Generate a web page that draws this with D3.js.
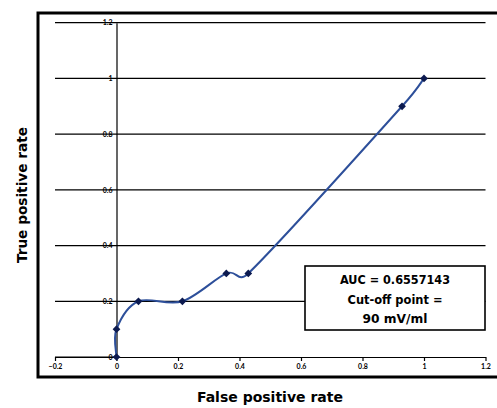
<!DOCTYPE html>
<html><head><meta charset="utf-8">
<script src="https://cdn.jsdelivr.net/npm/d3@7/dist/d3.min.js"></script>
<style>body{margin:0;background:#fff}svg{display:block}</style>
</head><body>
<svg id="c" width="497" height="408"></svg>
<script>
const fpr = [0, 0, 0.0714, 0.2143, 0.3571, 0.4286, 0.9286, 1];
const tpr = [0, 0.1, 0.2, 0.2, 0.3, 0.3, 0.9, 1];
const xTicks = [-0.2, 0, 0.2, 0.4, 0.6, 0.8, 1, 1.2];
const yTicks = [0, 0.2, 0.4, 0.6, 0.8, 1, 1.2];
const annotation = ["AUC = 0.6557143", "Cut-off point =", "90 mV/ml"];

const svg = d3.select("#c");
const x = d3.scaleLinear().domain([-0.2, 1.2]).range([55, 485.5]);
const y = d3.scaleLinear().domain([0, 1.2]).range([357, 22.7]);
const font = "'DejaVu Sans', sans-serif";
const tickFont = "Lato, sans-serif";

// outer border
svg.append("rect").attr("x", 38).attr("y", 13).attr("width", 470).attr("height", 364)
  .attr("fill", "none").attr("stroke", "#000").attr("stroke-width", 3);

// horizontal gridlines
svg.append("g").selectAll("line").data(yTicks.filter(d => d > 0)).join("line")
  .attr("x1", x(-0.2)).attr("x2", x(1.2)).attr("y1", d => y(d)).attr("y2", d => y(d))
  .attr("stroke", "#000").attr("stroke-width", 1.2);

// y axis at x=0
const yAxis = d3.axisLeft(y).tickValues(yTicks).tickSize(0).tickPadding(4).tickFormat(d3.format("~g"));
const gy = svg.append("g").attr("transform", `translate(${x(0)},0)`).call(yAxis);
gy.select(".domain").attr("stroke", "#000").attr("stroke-width", 1.2);
gy.selectAll("text").attr("font-family", tickFont).attr("font-weight", "bold").attr("font-size", 7).attr("fill", "#000");

// x axis at y=0
const xAxis = d3.axisBottom(x).tickValues(xTicks).tickSize(4).tickSizeOuter(0).tickPadding(3).tickFormat(d3.format("~g"));
const gx = svg.append("g").attr("transform", `translate(0,${y(0)})`).call(xAxis);
gx.select(".domain").attr("stroke", "#000").attr("stroke-width", 1.2);
gx.selectAll(".tick line").attr("stroke", "#000").attr("stroke-width", 1.2);
gx.selectAll("text").attr("font-family", tickFont).attr("font-weight", "bold").attr("font-size", 7).attr("fill", "#000");
svg.append("line").attr("x1", x(-0.2)).attr("x2", x(0)).attr("y1", y(0)).attr("y2", y(0))
  .attr("stroke", "#000").attr("stroke-width", 1.2);

// smoothed curve (Excel-like: Catmull-Rom tangents, arms capped by segment length)
const P = fpr.map((v, i) => [x(v), y(tpr[i])]);
const n = P.length;
const tang = P.map((p, i) => {
  const a = P[Math.max(0, i - 1)], b = P[Math.min(n - 1, i + 1)];
  const dx = b[0] - a[0], dy = b[1] - a[1], L = Math.hypot(dx, dy) || 1;
  return { ux: dx / L, uy: dy / L, len: L / 6 };
});
const path = d3.path();
path.moveTo(P[0][0], P[0][1]);
for (let i = 0; i < n - 1; i++) {
  const p0 = P[i], p1 = P[i + 1];
  const seg = Math.hypot(p1[0] - p0[0], p1[1] - p0[1]);
  const a0 = Math.min(tang[i].len, seg * 0.7), a1 = Math.min(tang[i + 1].len, seg * 0.7);
  path.bezierCurveTo(p0[0] + tang[i].ux * a0, p0[1] + tang[i].uy * a0,
                     p1[0] - tang[i + 1].ux * a1, p1[1] - tang[i + 1].uy * a1,
                     p1[0], p1[1]);
}
svg.append("path").attr("d", path.toString()).attr("fill", "none")
  .attr("stroke", "#2d4f9a").attr("stroke-width", 2);

// markers (square diamonds)
const sym = d3.symbol().type(d3.symbolSquare).size(30);
svg.append("g").selectAll("path").data(fpr.map((v, i) => [v, tpr[i]])).join("path")
  .attr("d", sym).attr("transform", d => `translate(${x(d[0])},${y(d[1])}) rotate(45)`)
  .attr("fill", "#0c1a4f");

// annotation box
svg.append("rect").attr("x", 305).attr("y", 266).attr("width", 180).attr("height", 64)
  .attr("fill", "#fff").attr("stroke", "#000").attr("stroke-width", 1.6);
const annW = [110, 95, 65];
svg.append("g").selectAll("text").data(annotation).join("text")
  .attr("x", 395).attr("y", (d, i) => 284.3 + i * 19.2)
  .attr("text-anchor", "middle").attr("font-family", font).attr("font-weight", "bold")
  .attr("font-stretch", "condensed")
  .attr("font-size", 12.5).attr("fill", "#000")
  .attr("textLength", (d, i) => annW[i]).attr("lengthAdjust", "spacingAndGlyphs").text(d => d);

// axis titles
svg.append("text").attr("x", 270).attr("y", 402).attr("text-anchor", "middle")
  .attr("font-family", font).attr("font-weight", "bold").attr("font-stretch", "condensed")
  .attr("font-size", 14.5).attr("textLength", 146).attr("lengthAdjust", "spacingAndGlyphs")
  .text("False positive rate");
svg.append("text").attr("transform", "translate(27,195) rotate(-90)").attr("text-anchor", "middle")
  .attr("font-family", font).attr("font-weight", "bold").attr("font-stretch", "condensed")
  .attr("font-size", 14.5).attr("textLength", 136).attr("lengthAdjust", "spacingAndGlyphs")
  .text("True positive rate");
</script>
</body></html>
